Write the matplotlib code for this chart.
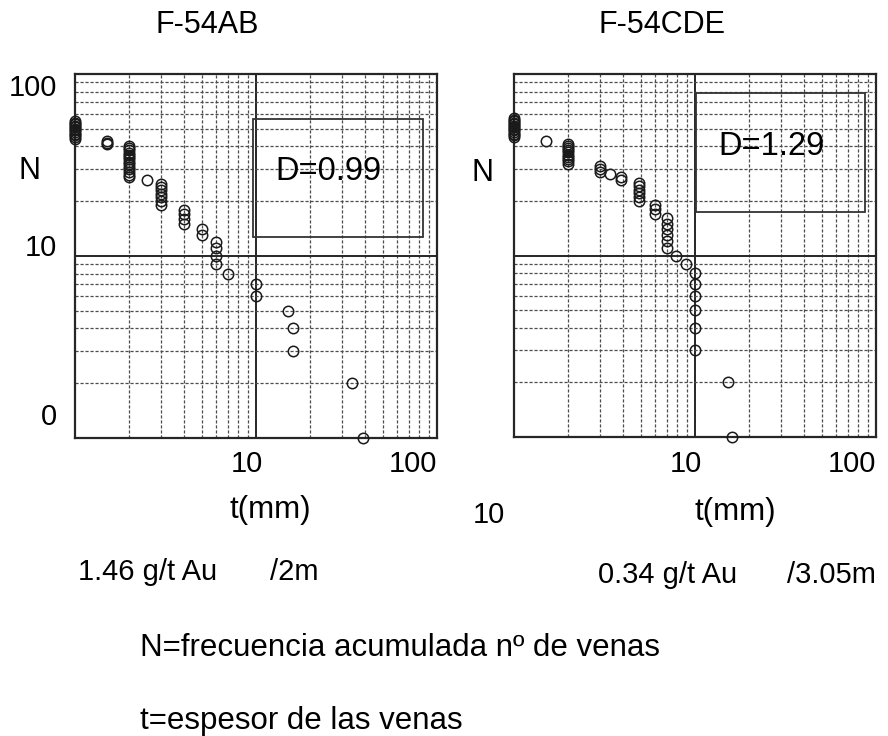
"""
Fractal plots of vein thickness vs cumulative frequency (F-54AB, F-54CDE).
"""

import matplotlib
matplotlib.use('Agg')
import matplotlib.pyplot as plt
import matplotlib.transforms as mtransforms
from matplotlib.patches import Rectangle
from matplotlib.ticker import NullFormatter, LogLocator

plt.rcParams['font.family'] = ['Liberation Sans', 'DejaVu Sans']
plt.rcParams['font.size'] = 21

# ------------------------------------------------------------
# Data: t (mm) and N (cumulative no. of veins)
# ------------------------------------------------------------
t_ab = [1, 1, 1, 1, 1, 1, 1, 1, 1, 1, 1, 1,
        1.5, 1.5, 1.5,
        2, 2, 2, 2, 2, 2, 2, 2, 2, 2, 2, 2, 2, 2,
        2.5,
        3, 3, 3, 3, 3, 3, 3,
        4, 4, 4, 4,
        5, 5,
        6, 6, 6, 6,
        7,
        10, 10,
        15, 16, 16,
        34, 39]
n_ab = [55, 54, 53, 52, 51, 50, 49, 48, 47, 46, 45, 44,
        43, 42, 41,
        40, 39, 38, 37, 36, 35, 34, 33, 32, 31, 30, 29, 28, 27,
        26,
        25, 24, 23, 22, 21, 20, 19,
        18, 17, 16, 15,
        14, 13,
        12, 11, 10, 9,
        8,
        7, 6,
        5, 4, 3,
        2, 1]

t_cde = [1, 1, 1, 1, 1, 1, 1, 1, 1, 1, 1, 1, 1,
         1.5,
         2, 2, 2, 2, 2, 2, 2, 2, 2, 2,
         3, 3, 3,
         3.4,
         3.9, 3.9,
         4.9, 4.9, 4.9, 4.9, 4.9, 4.9,
         6, 6, 6,
         7, 7, 7, 7, 7, 7,
         7.9, 8.9,
         10, 10, 10, 10, 10, 10,
         15.3, 16]
n_cde = [57, 56, 55, 54, 53, 52, 51, 50, 49, 48, 47, 46, 45,
         43,
         41, 40, 39, 38, 37, 36, 35, 34, 33, 32,
         31, 30, 29,
         28,
         27, 26,
         25, 24, 23, 22, 21, 20,
         19, 18, 17,
         16, 15, 14, 13, 12, 11,
         10, 9,
         8, 7, 6, 5, 4, 3,
         2, 1]

titles = ['F-54AB', 'F-54CDE']
d_labels = ['D=0.99', 'D=1.29']
x_ticks = [10, 100]
x_ticklabels = ['10', '100']
y_ticks = [1, 10, 100]
y_ticklabels = ['0', '10', '100']

fig = plt.figure(figsize=(8.88, 7.36), dpi=100)
W, H = 888, 736


def px(x, y):
    return x / W, 1 - y / H


def shift(label, dx, dy):
    # move a tick label by (dx, dy) pixels
    label.set_transform(label.get_transform() +
                        mtransforms.ScaledTranslation(dx / 100, dy / 100, fig.dpi_scale_trans))


ax1 = fig.add_axes([75 / W, 1 - 438 / H, 362 / W, 364 / H])
ax2 = fig.add_axes([514 / W, 1 - 437 / H, 362 / W, 363 / H])

for ax, t, n in [(ax1, t_ab, n_ab), (ax2, t_cde, n_cde)]:
    ax.set_xscale('log')
    ax.set_yscale('log')
    ax.set_xlim(1, 100)
    ax.set_ylim(1, 100)
    ax.xaxis.set_minor_locator(LogLocator(base=10, subs=range(2, 10)))
    ax.yaxis.set_minor_locator(LogLocator(base=10, subs=range(2, 10)))
    ax.xaxis.set_minor_formatter(NullFormatter())
    ax.yaxis.set_minor_formatter(NullFormatter())
    ax.grid(which='minor', linestyle=(0, (2.5, 1.5)), linewidth=0.9, color='0.3')
    ax.grid(which='major', linestyle='-', linewidth=1.4, color='0.15')
    ax.tick_params(which='both', length=0)
    ax.tick_params(axis='x', pad=9)
    ax.tick_params(axis='y', pad=13)
    for s in ax.spines.values():
        s.set_linewidth(1.6)
        s.set_color('0.15')
    ax.plot(t, n, linestyle='none', marker='o', markersize=7.5,
            markerfacecolor='none', markeredgecolor='0.1',
            markeredgewidth=1.1, clip_on=False, zorder=5)
    ax.set_xticks(x_ticks)
    ax.set_xticklabels(x_ticklabels)
    xl = ax.get_xticklabels()
    shift(xl[0], -9, 0)
    xl[1].set_ha('right')

ax1.set_yticks(y_ticks)
ax1.set_yticklabels(y_ticklabels)
ylabs = ax1.get_yticklabels()
ylabs[0].set_va('baseline')
shift(ylabs[0], 0, 13)
ylabs[1].set_va('baseline')
ylabs[2].set_va('top')
ax2.set_yticks(y_ticks)
ax2.set_yticklabels([])

# Boxes with the fractal dimension
ax1.add_patch(Rectangle((0.492, 0.551), 0.468, 0.325, transform=ax1.transAxes,
                        fill=False, linewidth=1.3, edgecolor='0.2', zorder=4))
ax1.text(0.699, 0.731, d_labels[0], transform=ax1.transAxes, ha='center',
         va='center', fontsize=23.5, zorder=6)
ax2.add_patch(Rectangle((0.502, 0.619), 0.468, 0.330, transform=ax2.transAxes,
                        fill=False, linewidth=1.3, edgecolor='0.2', zorder=4))
ax2.text(0.71, 0.80, d_labels[1], transform=ax2.transAxes, ha='center',
         va='center', fontsize=23.5, zorder=6)

# Titles and labels
fig.text(*px(207, 33), titles[0], ha='center', va='baseline', fontsize=22)
fig.text(*px(662, 33), titles[1], ha='center', va='baseline', fontsize=22)
fig.text(*px(29, 179), 'N', ha='center', va='baseline', fontsize=22)
fig.text(*px(482, 181), 'N', ha='center', va='baseline', fontsize=22)
fig.text(*px(270, 510), 't(mm)', ha='center', va='center', fontsize=22.5)
fig.text(*px(735, 512), 't(mm)', ha='center', va='center', fontsize=22.5)
fig.text(*px(489, 515), '10', ha='center', va='center')
fig.text(*px(78, 580), '1.46 g/t Au', ha='left', va='baseline')
fig.text(*px(270, 580), '/2m', ha='left', va='baseline')
fig.text(*px(598, 583), '0.34 g/t Au', ha='left', va='baseline')
fig.text(*px(787, 583), '/3.05m', ha='left', va='baseline')
fig.text(*px(140, 656), 'N=frecuencia acumulada nº de venas', ha='left',
         va='baseline', fontsize=22.5)
fig.text(*px(140, 729), 't=espesor de las venas', ha='left', va='baseline',
         fontsize=22.5)

plt.savefig('out.png', dpi=100)
plt.close()
